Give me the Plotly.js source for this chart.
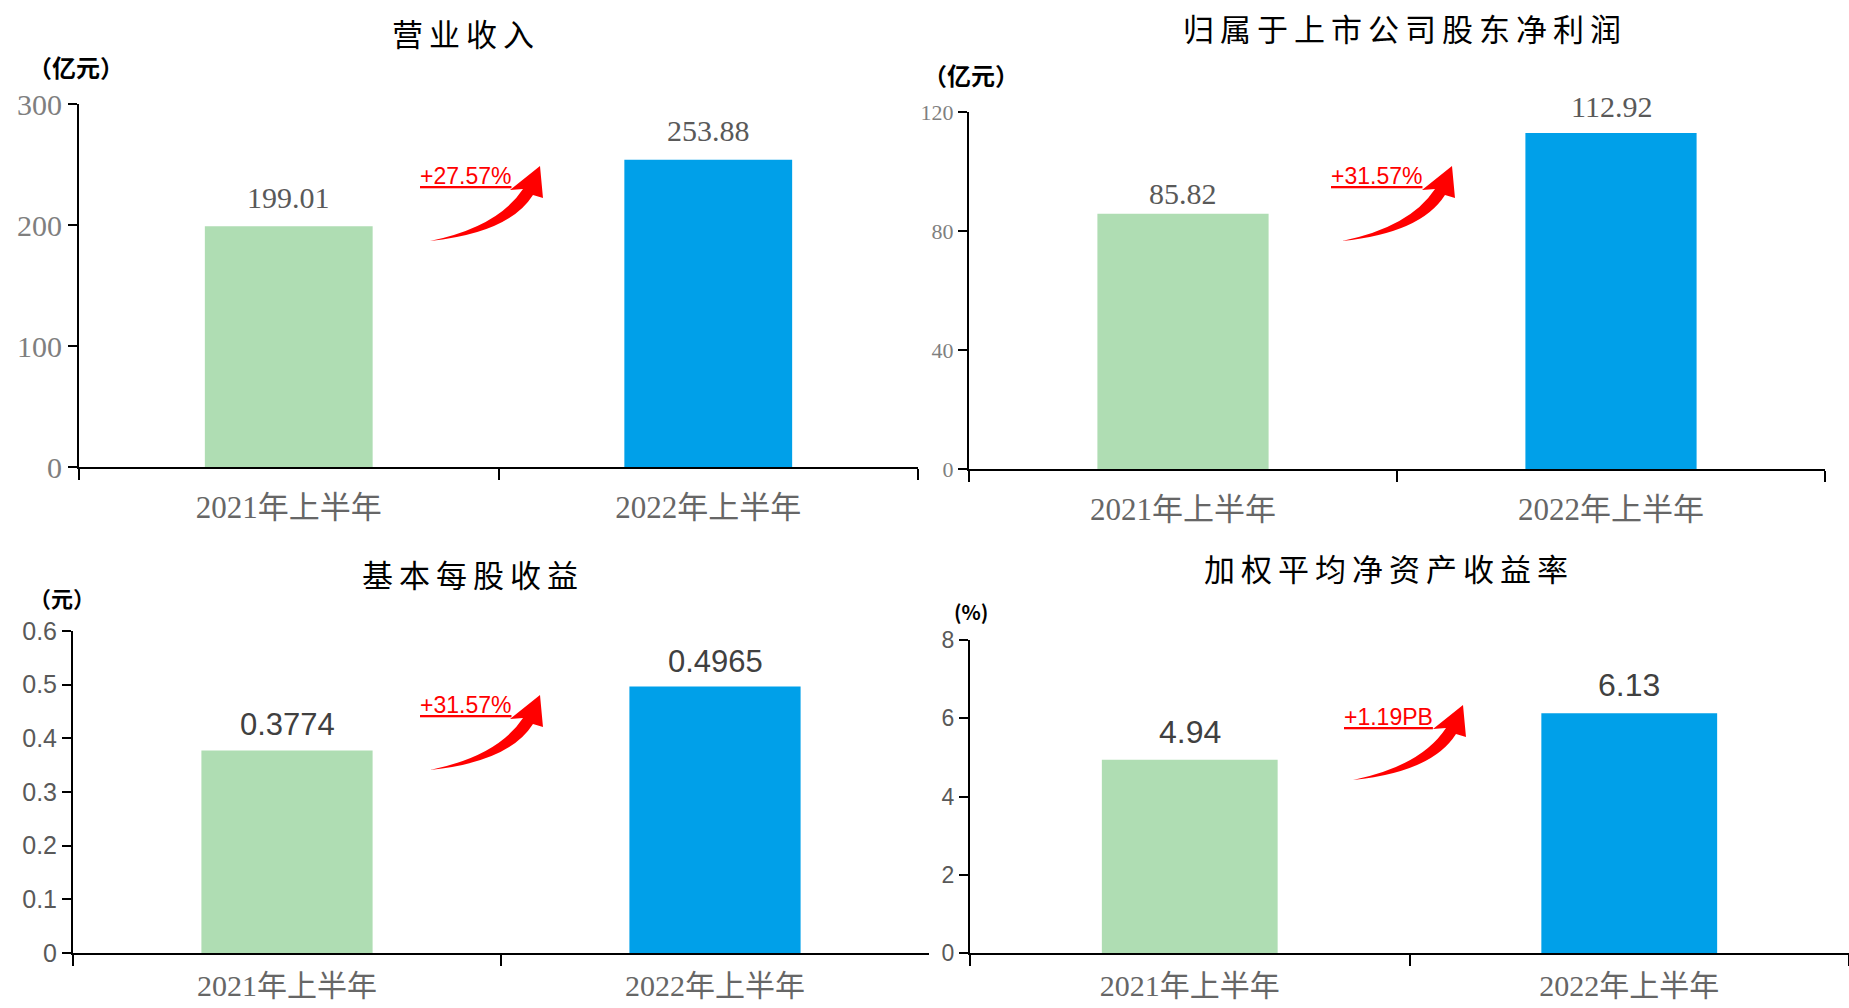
<!DOCTYPE html>
<html><head><meta charset="utf-8">
<script src="https://cdn.plot.ly/plotly-3.0.1.min.js"></script>
<style>html,body{margin:0;padding:0;background:#fff;overflow:hidden}</style>
</head><body><div id="chart" style="width:1849px;height:1008px"></div>
<script>
// ---- data ----
const periods = ['2021年上半年', '2022年上半年'];
const revenue = [199.01, 253.88];      // 营业收入（亿元）
const netProfit = [85.82, 112.92];     // 归母净利润（亿元）
const eps = [0.3774, 0.4965];          // 基本每股收益（元）
const roe = [4.94, 6.13];              // 加权平均净资产收益率（%）
const titles = ['营业收入', '归属于上市公司股东净利润', '基本每股收益', '加权平均净资产收益率'];
const units = ['（亿元）', '（亿元）', '（元）', '(%)'];
const growthLabels = ['+27.57%', '+31.57%', '+31.57%', '+1.19PB'];
const decimals = [2, 2, 4, 2];
const yRanges = [[0, 300], [0, 120], [0, 0.6], [0, 8]];
const yDticks = [100, 40, 0.1, 2];
const barColors = ['#AFDDB3', '#00A0E9'];

const series = [revenue, netProfit, eps, roe];

// ---- styling / geometry (pixels) ----
const W = 1849, H = 1008;
const SERIF = 'Liberation Serif, "Noto Sans CJK SC", serif';
const SANS = 'Liberation Sans, Arial, "Noto Sans CJK SC", sans-serif';
const CJK = '"Noto Sans CJK SC", sans-serif';
const panels = [
  {x0: 79, x1: 918, yb: 467, yt: 104, tickFont: {family: SERIF, size: 30, color: '#7f7f7f'},
   valFont: {family: SERIF, size: 30, color: '#595959'}, shift: [29, 29], standoff: 12, xSize: 31,
   title: [466, 32], unit: [76, 67], unitSize: 24, growth: [465, 176], tail: [430, 241]},
  {x0: 969, x1: 1825, yb: 469, yt: 112, tickFont: {family: SERIF, size: 22, color: '#7f7f7f'},
   valFont: {family: SERIF, size: 30, color: '#595959'}, shift: [20, 27], standoff: 12, xSize: 31,
   title: [1405, 27], unit: [971, 75], unitSize: 24, growth: [1376, 176], tail: [1342, 241]},
  {x0: 73, x1: 929, yb: 953, yt: 631, tickFont: {family: SANS, size: 25, color: '#595959'},
   valFont: {family: SANS, size: 31, color: '#404040'}, shift: [26, 25], standoff: 5, xSize: 30,
   title: [473, 573], unit: [62, 597], unitSize: 22, growth: [465, 705], tail: [430, 770]},
  {x0: 970, x1: 1849, yb: 953, yt: 640, tickFont: {family: SANS, size: 23, color: '#595959'},
   valFont: {family: SANS, size: 32, color: '#404040'}, shift: [28, 28], standoff: 5, xSize: 30,
   title: [1389, 567], unit: [971, 611], unitSize: 20, growth: [1388, 717], tail: [1353, 780]}
];

const px = x => x / W;
const py = y => 1 - y / H;

function arrowPath(tx, ty) {
  const pts = {
    tail: [0, 0], c1: [79, -8], lowEnd: [103, -46], rw: [113, -43], tip: [110, -75],
    lw: [80, -51], upEnd: [93, -52], c2: [68, -14]
  };
  const P = k => (px(tx + pts[k][0])).toFixed(5) + ',' + (py(ty + pts[k][1])).toFixed(5);
  return 'M' + P('tail') + ' Q' + P('c1') + ' ' + P('lowEnd') + ' L' + P('rw') + ' L' + P('tip') +
         ' L' + P('lw') + ' L' + P('upEnd') + ' Q' + P('c2') + ' ' + P('tail') + ' Z';
}

const data = [];
const layout = {
  width: W, height: H, margin: {l: 0, r: 0, t: 0, b: 0},
  paper_bgcolor: '#fff', plot_bgcolor: '#fff', showlegend: false,
  annotations: [], shapes: []
};

panels.forEach((p, i) => {
  const n = i === 0 ? '' : String(i + 1);
  data.push({
    type: 'bar', x: periods, y: series[i], xaxis: 'x' + n, yaxis: 'y' + n,
    marker: {color: barColors, line: {width: 0}}, width: 0.4, hoverinfo: 'skip'
  });
  layout['xaxis' + n] = {
    domain: [px(p.x0), Math.min(1, px(p.x1))], anchor: 'y' + n, type: 'category',
    showline: true, linecolor: '#000', linewidth: 2, ticks: 'outside', tickson: 'boundaries',
    ticklen: 11, tickwidth: 2, tickcolor: '#000', showgrid: false, zeroline: false,
    tickfont: {family: SERIF, size: p.xSize, color: '#666666'}, ticklabelstandoff: p.standoff, fixedrange: true
  };
  layout['yaxis' + n] = {
    domain: [py(p.yb), py(p.yt)], anchor: 'x' + n, range: yRanges[i], tick0: 0, dtick: yDticks[i],
    showline: true, linecolor: '#000', linewidth: 2, ticks: 'outside', ticklen: 9, tickwidth: 2,
    tickcolor: '#000', showgrid: false, zeroline: false, tickfont: p.tickFont, fixedrange: true
  };
  // value labels
  series[i].forEach((v, j) => {
    layout.annotations.push({
      xref: 'x' + n, yref: 'y' + n, x: periods[j], y: v, text: v.toFixed(decimals[i]),
      showarrow: false, yanchor: 'middle', yshift: p.shift[j], font: p.valFont
    });
  });
  // title
  layout.annotations.push({
    xref: 'paper', yref: 'paper', x: px(p.title[0]), y: py(p.title[1]),
    text: '<span style="letter-spacing:6px">' + titles[i] + '</span>',
    showarrow: false, xanchor: 'center', yanchor: 'middle', font: {family: CJK, size: 31, color: '#000'}
  });
  // unit
  layout.annotations.push({
    xref: 'paper', yref: 'paper', x: px(p.unit[0]), y: py(p.unit[1]), text: '<b>' + units[i] + '</b>',
    showarrow: false, xanchor: 'center', yanchor: 'middle', font: {family: CJK, size: p.unitSize, color: '#000'}
  });
  // growth label
  layout.annotations.push({
    xref: 'paper', yref: 'paper', x: px(p.growth[0]), y: py(p.growth[1]), text: '<u>' + growthLabels[i] + '</u>',
    showarrow: false, xanchor: 'center', yanchor: 'middle', font: {family: SANS, size: 23, color: '#ff0000'}
  });
  // curved arrow
  layout.shapes.push({
    type: 'path', xref: 'paper', yref: 'paper', path: arrowPath(p.tail[0], p.tail[1]),
    fillcolor: '#ff0000', line: {width: 0}
  });
});

Plotly.newPlot('chart', data, layout, {displayModeBar: false, staticPlot: true});
</script>
</body></html>
